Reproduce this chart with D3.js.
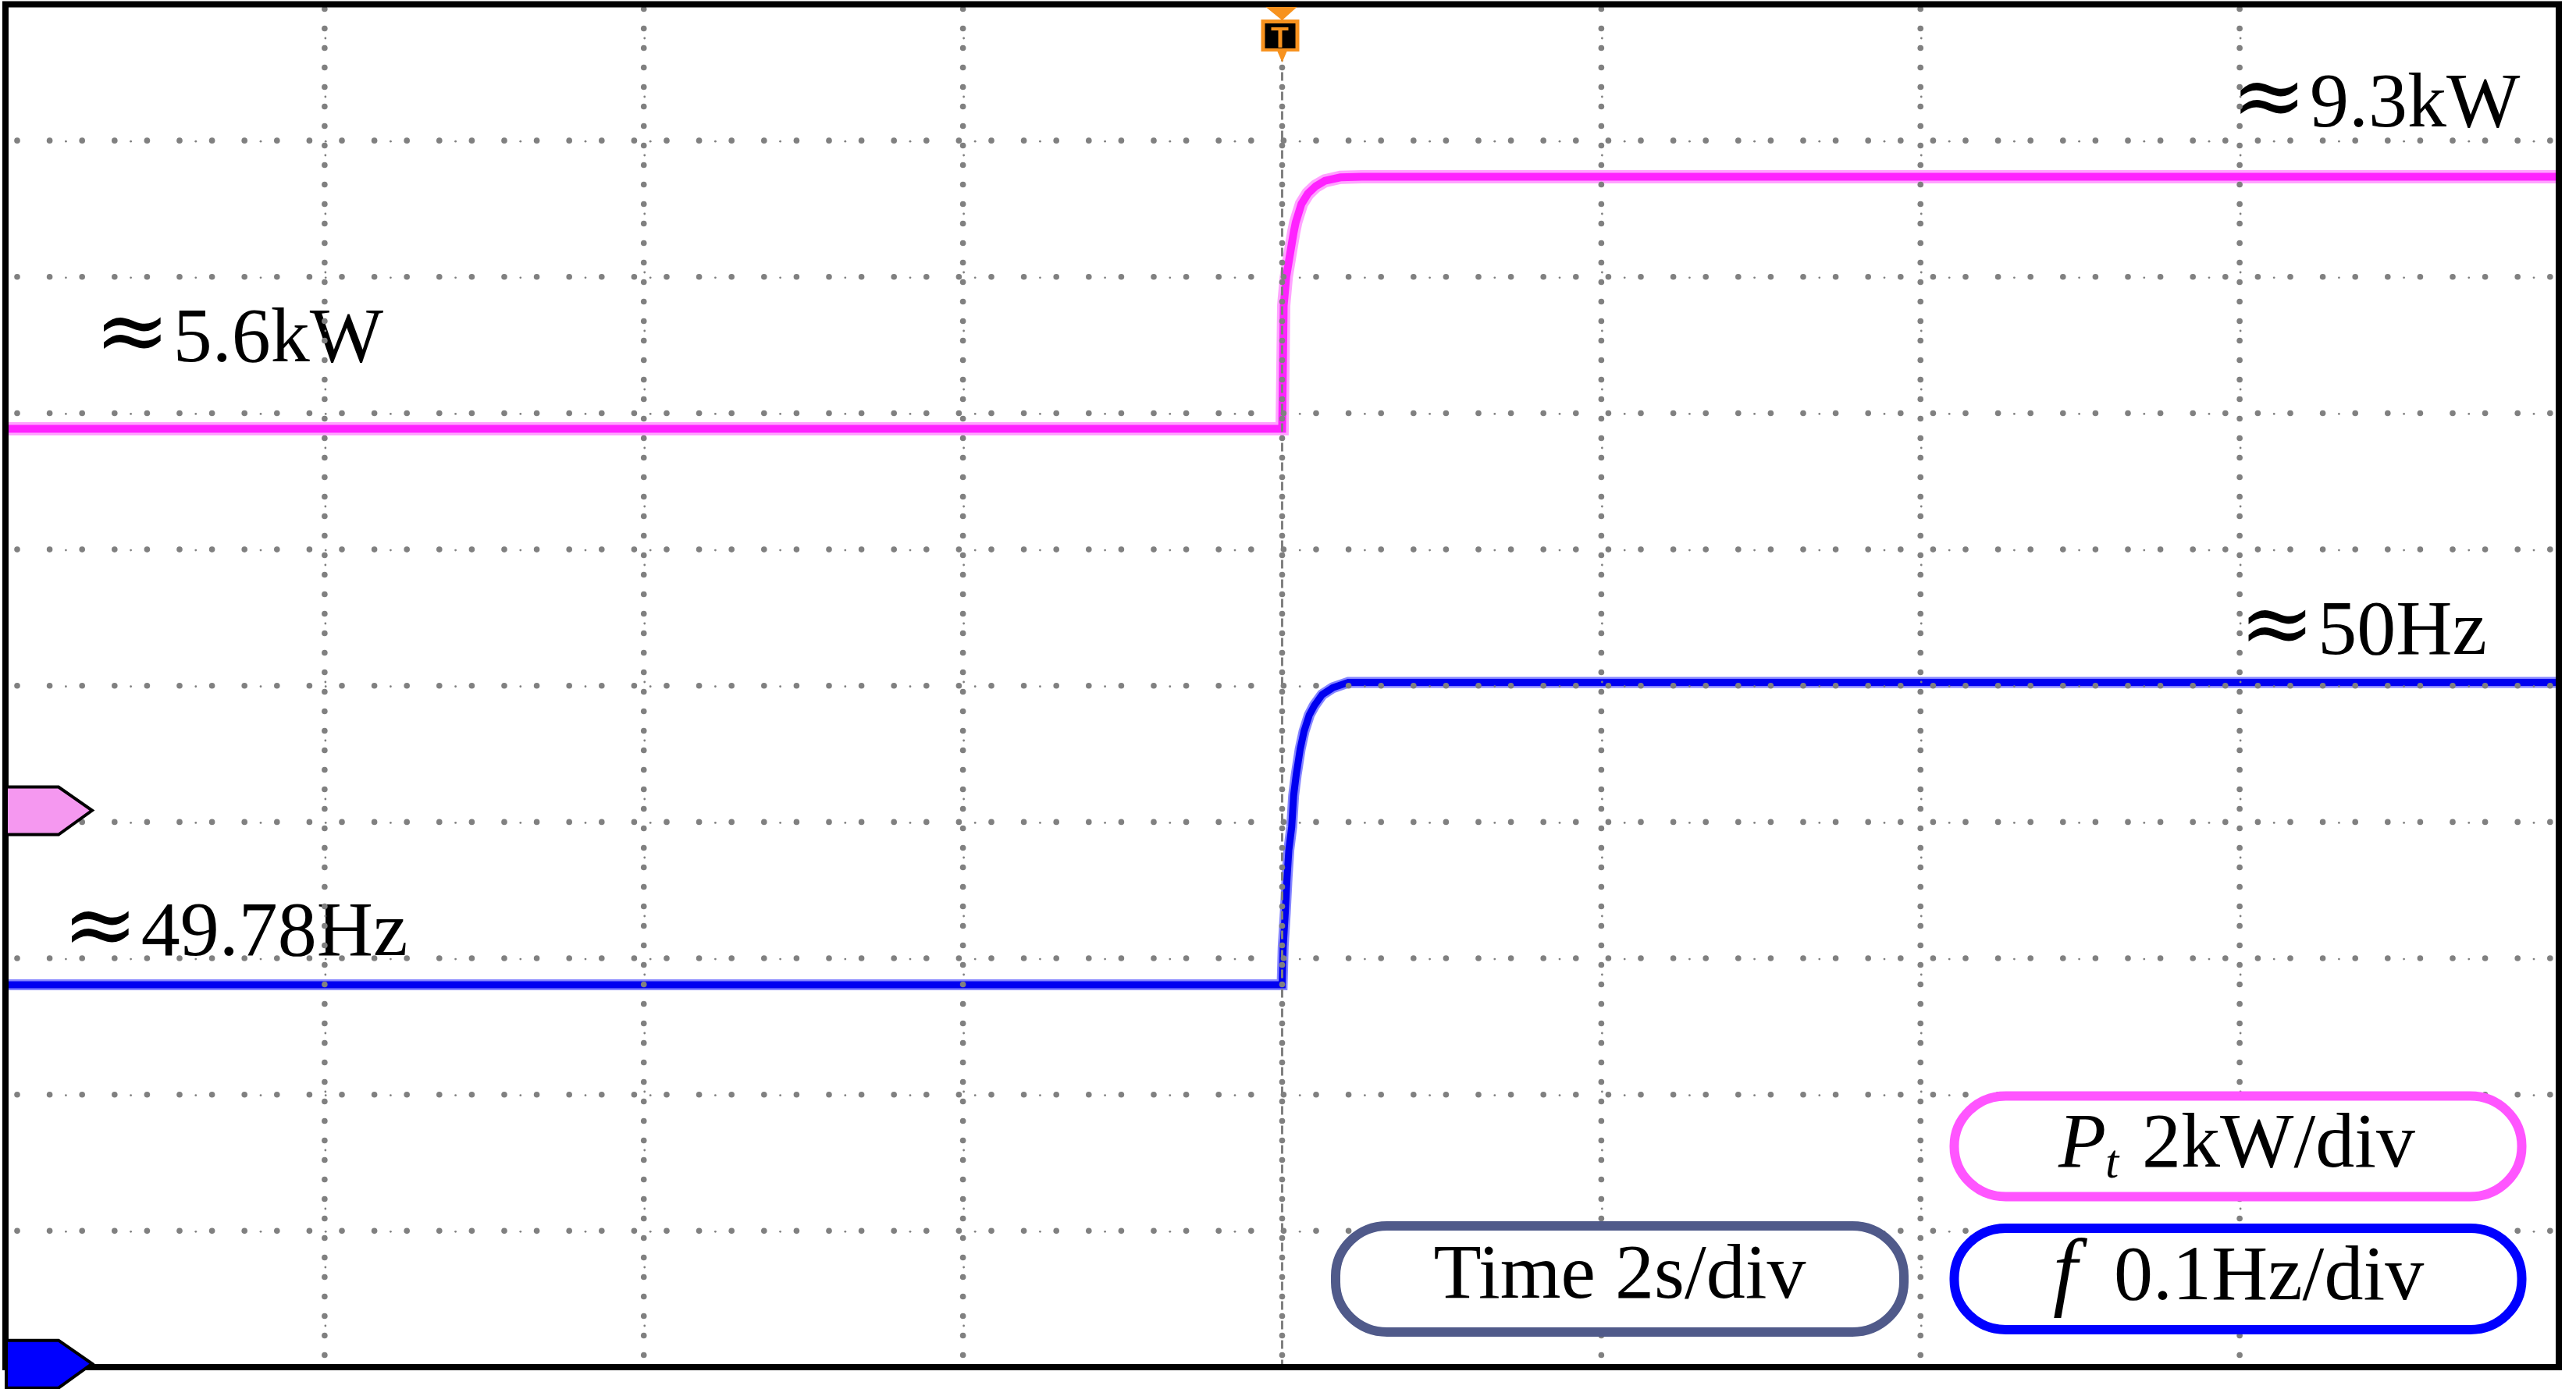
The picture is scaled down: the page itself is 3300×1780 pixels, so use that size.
<!DOCTYPE html>
<html lang="en">
<head>
<meta charset="UTF-8">
<title>Pt and f step response</title>
<script src="https://d3js.org/d3.v7.min.js"></script>
<style>
  body { margin: 0; background: #fff; }
  svg { display: block; }
</style>
</head>
<body>
<script>
// time axis (s), 2 s/div, trigger at 0
var timeTicks = [-8, -6, -4, -2, 0, 2, 4, 6, 8];

// Pt trace (kW)
var pTime  = [-8, 0, 0.0098, 0.026, 0.047, 0.072, 0.085, 0.121, 0.161, 0.21, 0.268, 0.365, 0.5, 2, 8];
var pValue = [5.6, 5.6, 7.41, 7.83, 8.13, 8.48, 8.63, 8.90, 9.05, 9.16, 9.24, 9.29, 9.3, 9.3, 9.3];

// f trace (Hz)
var fTime  = [-8, 0, 0.0065, 0.0196, 0.031, 0.042, 0.060, 0.072, 0.088, 0.113, 0.137, 0.17, 0.202, 0.251, 0.317, 0.415, 2, 8];
var fValue = [49.778, 49.778, 49.806, 49.831, 49.857, 49.877, 49.894, 49.917, 49.932, 49.951, 49.964, 49.976, 49.983, 49.991, 49.996, 50.0, 50.0, 50.0];

// annotations
var labelText = ["5.6kW", "9.3kW", "50Hz", "49.78Hz"];
var labelTime = [-7.4, 5.99, 6.04, -7.6];
var labelValue = [6.59, 10.04, 50.021, 49.80];

var W = 3300, H = 1780;
var plot = { left: 7, top: 5.5, right: 3278, bottom: 1752 };

var svg = d3.select("body").append("svg")
    .attr("width", W)
    .attr("height", H);

svg.append("rect").attr("width", W).attr("height", H).attr("fill", "#fff");

// scales
var x = d3.scaleLinear().domain([-8, 8]).range([plot.left, plot.right]);
var yDiv = d3.scaleLinear().domain([0, 10]).range([plot.top, plot.bottom]);
var yP = d3.scaleLinear().domain([-8.17, 11.83]).range([plot.bottom, plot.top]);   // 2 kW/div
var yF = d3.scaleLinear().domain([49.4975, 50.4975]).range([plot.bottom, plot.top]); // 0.1 Hz/div

svg.append("clipPath").attr("id", "clip")
  .append("rect")
    .attr("x", plot.left).attr("y", plot.top)
    .attr("width", plot.right - plot.left).attr("height", plot.bottom - plot.top);

// traces
var tr = svg.append("g").attr("clip-path", "url(#clip)");

var lineP = d3.line().x(function (d) { return x(d[0]); }).y(function (d) { return yP(d[1]); });
var lineF = d3.line().x(function (d) { return x(d[0]); }).y(function (d) { return yF(d[1]); });
var pData = d3.zip(pTime, pValue);
var fData = d3.zip(fTime, fValue);

tr.append("path").attr("d", lineP(pData))
    .attr("fill", "none").attr("stroke", "#ff66ff").attr("stroke-width", 17).attr("stroke-opacity", 0.6);
tr.append("path").attr("d", lineP(pData))
    .attr("fill", "none").attr("stroke", "#ff22ff").attr("stroke-width", 10);

tr.append("path").attr("d", lineF(fData))
    .attr("fill", "none").attr("stroke", "#3333ff").attr("stroke-width", 14).attr("stroke-opacity", 0.6);
tr.append("path").attr("d", lineF(fData))
    .attr("fill", "none").attr("stroke", "#0000f0").attr("stroke-width", 9);

// value labels
var labelY = [yP(labelValue[0]), yP(labelValue[1]), yF(labelValue[2]), yF(labelValue[3])];
labelText.forEach(function (s, i) {
    var t = svg.append("text")
        .attr("y", labelY[i])
        .style("font-family", "'Liberation Serif', 'Times New Roman', serif")
        .style("font-size", "100px")
        .attr("fill", "#000");
    t.append("tspan")
        .attr("x", x(labelTime[i]) - 9)
        .style("font-family", "'DejaVu Serif', serif")
        .style("font-size", "116px")
        .text("\u2248");
    t.append("tspan")
        .attr("x", x(labelTime[i]) + 92)
        .text(s);
});

// grid (drawn over the traces, like the scope screen)
var grid = svg.append("g").attr("fill", "#808080");
var rows = d3.range(1, 10);
var dx = 41.6, dy = 25;

rows.forEach(function (k) {
    var yy = yDiv(k);
    var xs = d3.range(plot.left + 15, plot.right, dx);
    xs.forEach(function (xx, j) {
        grid.append("circle").attr("cx", xx).attr("cy", yy).attr("r", 3.8);
        if (j % 2 === 1) grid.append("circle").attr("cx", xx + dx / 2).attr("cy", yy + 1).attr("r", 1.4);
    });
});

timeTicks.slice(1, -1).forEach(function (t) {
    var xx = x(t);
    var ys = d3.range(plot.top + 6, plot.bottom, dy);
    ys.forEach(function (yy, j) {
        grid.append("circle").attr("cx", xx).attr("cy", yy).attr("r", 3.8);
        if (t === 0) {
            grid.append("rect").attr("x", xx - 1.5).attr("y", yy + 6).attr("width", 3).attr("height", 11);
        } else if (j % 3 === 1) {
            grid.append("circle").attr("cx", xx + 1).attr("cy", yy + dy / 2).attr("r", 1.4);
        }
    });
});

// scale boxes
function pill(cx, cy, w, h, color) {
    svg.append("rect")
        .attr("x", cx - w / 2).attr("y", cy - h / 2)
        .attr("width", w).attr("height", h)
        .attr("rx", 66).attr("ry", 64)
        .attr("fill", "#fff")
        .attr("stroke", color)
        .attr("stroke-width", 12);
}
pill(2075, 1639, 728, 136, "#505a8a");
pill(2867, 1469, 727, 129, "#ff55ff");
pill(2867, 1639, 727, 130, "#0000ff");

var serif = "'Liberation Serif', 'Times New Roman', serif";

svg.append("text")
    .attr("x", 2075).attr("y", 1663)
    .attr("text-anchor", "middle")
    .style("font-family", serif).style("font-size", "100px")
    .text("Time 2s/div");

var tp = svg.append("text")
    .attr("y", 1495)
    .style("font-family", serif).style("font-size", "100px");
tp.append("tspan").attr("x", 2637).style("font-style", "italic").text("P");
tp.append("tspan").attr("x", 2697).attr("dy", 14).style("font-style", "italic").style("font-size", "62px").text("t");
tp.append("tspan").attr("x", 2744).attr("dy", -14).text("2kW/div");

var tf = svg.append("text")
    .attr("y", 1665)
    .style("font-family", serif).style("font-size", "100px");
tf.append("tspan").attr("x", 2630).style("font-style", "italic").style("font-size", "112px").text("f");
tf.append("tspan").attr("x", 2708).text("0.1Hz/div");

// frame
svg.append("rect")
    .attr("x", plot.left).attr("y", plot.top)
    .attr("width", plot.right - plot.left).attr("height", plot.bottom - plot.top)
    .attr("fill", "none")
    .attr("stroke", "#000")
    .attr("stroke-width", 8);

// channel reference markers
function marker(yy, color) {
    var m = [[plot.left + 1, yy - 30], [75, yy - 30], [118, yy], [75, yy + 31], [plot.left + 1, yy + 31]];
    svg.append("path")
        .attr("d", "M" + m.join("L") + "Z")
        .attr("fill", color)
        .attr("stroke", "#000")
        .attr("stroke-width", 4)
        .attr("stroke-linejoin", "miter");
}
marker(yP(0), "#f598f0");
marker(yF(49.5), "#0000ff");

// trigger marker
var tx = x(0), orange = "#f7921e";
svg.append("path")
    .attr("d", "M" + (tx - 21) + ",9L" + (tx + 19) + ",9L" + tx + ",26Z")
    .attr("fill", orange);
svg.append("path")
    .attr("d", "M" + (tx - 27) + ",25L" + (tx + 22) + ",25L" + (tx + 22) + ",66L" + (tx + 6) + ",66L" + tx + ",80L" + (tx - 6) + ",66L" + (tx - 27) + ",66Z")
    .attr("fill", orange);
svg.append("rect")
    .attr("x", tx - 22).attr("y", 30).attr("width", 39).attr("height", 32)
    .attr("fill", "#000");
svg.append("rect")
    .attr("x", tx - 14).attr("y", 35).attr("width", 22).attr("height", 4)
    .attr("fill", orange);
svg.append("rect")
    .attr("x", tx - 5).attr("y", 35).attr("width", 5).attr("height", 26)
    .attr("fill", orange);
</script>
</body>
</html>
